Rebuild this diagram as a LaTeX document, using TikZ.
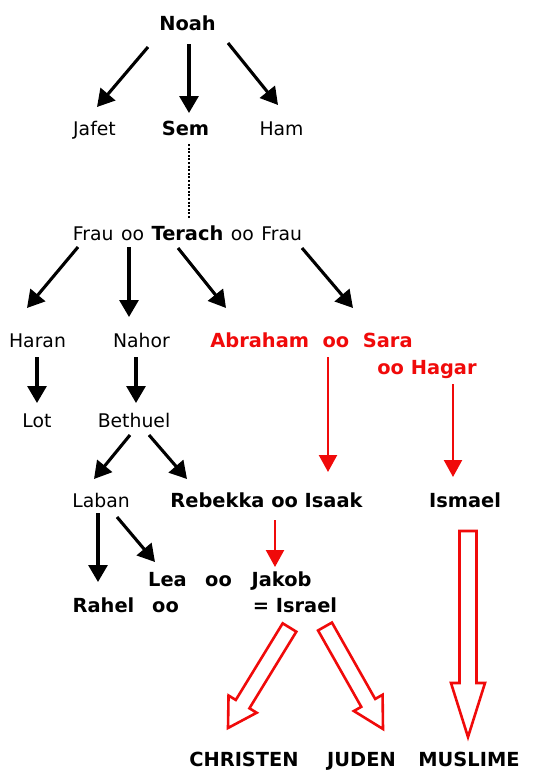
\documentclass[tikz,border=0pt]{standalone}
\usepackage{fontspec}
\setmainfont{DejaVu Sans}
\usetikzlibrary{arrows.meta,calc}
\definecolor{myred}{RGB}{240,10,10}
\tikzset{
  txt/.style={font=\fontsize{18.8}{22}\selectfont, inner sep=0pt, anchor=base},
  bd/.style={txt, font=\fontsize{19.4}{22}\selectfont\bfseries},
  rd/.style={bd, text=myred},
  blk/.style={line width=3.1pt, -{Triangle[length=17pt,width=19pt]}},
  redarr/.style={myred, line width=2.3pt, -{Triangle[length=17pt,width=18pt]}},
  dots/.style={line width=2.4pt, dash pattern=on 2pt off 1.6pt},
  hollow/.style={draw=myred, line width=2.6pt, fill=white, line join=miter}
}
\newcommand{\holarr}[7]{%
  \pgfmathsetmacro{\hdx}{#3-#1}\pgfmathsetmacro{\hdy}{#4-#2}%
  \pgfmathsetmacro{\hlen}{veclen(\hdx,\hdy)}%
  \pgfmathsetmacro{\hux}{\hdx/\hlen}\pgfmathsetmacro{\huy}{\hdy/\hlen}%
  \pgfmathsetmacro{\hbx}{#3-#7*\hux}\pgfmathsetmacro{\hby}{#4-#7*\huy}%
  \draw[hollow] ({#1-#5*\huy},{#2+#5*\hux}) -- ({\hbx-#5*\huy},{\hby+#5*\hux})
    -- ({\hbx-#6*\huy},{\hby+#6*\hux}) -- (#3,#4)
    -- ({\hbx+#6*\huy},{\hby-#6*\hux}) -- ({\hbx+#5*\huy},{\hby-#5*\hux})
    -- ({#1+#5*\huy},{#2-#5*\hux}) -- cycle;}
\begin{document}
\begin{tikzpicture}[x=1pt,y=-1pt]
\useasboundingbox (0,0) rectangle (533,772);
% nodes
\node[bd] (noah) at (187.5,30) {Noah};
\node[txt] (jafet) at (94.5,135) {Jafet};
\node[bd] (sem) at (185.5,135) {Sem};
\node[txt] (ham) at (281.5,135) {Ham};
\node[txt] (terach) at (187.5,240) {\spaceskip=0.4em Frau oo {\fontsize{19.4}{22}\selectfont\bfseries Terach} oo Frau};
\node[txt] (haran) at (37.5,347) {Haran};
\node[txt] (nahor) at (141.5,347) {Nahor};
\node[rd] (abraham) at (311.5,347) {Abraham\hspace{0.7em}oo\hspace{0.7em}Sara};
\node[rd] (hagar) at (427,374) {oo Hagar};
\node[txt] (lot) at (37,427) {Lot};
\node[txt] (bethuel) at (134,427) {Bethuel};
\node[txt] (laban) at (101,507) {Laban};
\node[bd] (rebekka) at (266.5,507) {Rebekka oo Isaak};
\node[bd] (ismael) at (465,507) {Ismael};
\node[bd] (lea) at (167.5,586) {Lea};
\node[bd] (oo1) at (218.5,586) {oo};
\node[bd] (jakob) at (281.5,586) {Jakob};
\node[bd] (rahel) at (103.5,612) {Rahel};
\node[bd] (oo2) at (165.5,612) {oo};
\node[bd] (israel) at (295,612) {= Israel};
\node[bd] (christen) at (244,766) {CHRISTEN};
\node[bd] (juden) at (361.5,766) {JUDEN};
\node[bd] (muslime) at (469,766) {MUSLIME};
% black arrows
\draw[blk] ($(noah.base)+(-39.5,17)$) -- ($(jafet.base)+(2.5,-28)$);
\draw[blk] ($(noah.base)+(1.5,14)$) -- ($(sem.base)+(3.5,-22)$);
\draw[blk] ($(noah.base)+(40.5,13)$) -- ($(ham.base)+(-3.5,-30)$);
\draw[dots] ($(sem.base)+(3.5,9)$) -- ($(terach.base)+(1.5,-22)$);
\draw[blk] ($(terach.base)+(-109.5,7)$) -- ($(haran.base)+(-10.5,-39)$);
\draw[blk] ($(terach.base)+(-58.5,7)$) -- ($(nahor.base)+(-12.5,-30)$);
\draw[blk] ($(terach.base)+(-9.5,8)$) -- ($(abraham.base)+(-85.5,-39)$);
\draw[blk] ($(terach.base)+(114.5,8)$) -- ($(abraham.base)+(41.5,-39)$);
\draw[blk] ($(haran.base)+(-0.5,10)$) -- ($(lot.base)+(0,-24)$);
\draw[blk] ($(nahor.base)+(-5.5,10)$) -- ($(bethuel.base)+(2,-24)$);
\draw[blk] ($(bethuel.base)+(-4,8)$) -- ($(laban.base)+(-7,-28)$);
\draw[blk] ($(bethuel.base)+(15,8)$) -- ($(rebekka.base)+(-79.5,-28)$);
\draw[blk] ($(laban.base)+(-3,6)$) -- ($(rahel.base)+(-5.5,-30)$);
\draw[blk] ($(laban.base)+(16,10)$) -- ($(lea.base)+(-12.5,-24)$);
% red arrows
\draw[redarr] ($(abraham.base)+(16.5,10)$) -- ($(rebekka.base)+(61.5,-35)$);
\draw[redarr] ($(hagar.base)+(26,10)$) -- ($(ismael.base)+(-12,-30)$);
\draw[redarr] ($(rebekka.base)+(8.5,13)$) -- ($(jakob.base)+(-6.5,-19)$);
% hollow arrows
\holarr{289.5}{627.5}{228}{728}{8}{16.5}{28}
\holarr{325}{626.5}{383}{729}{8}{16.5}{30}
\holarr{468}{531}{468}{737}{8.5}{17}{54}
\end{tikzpicture}
\end{document}
